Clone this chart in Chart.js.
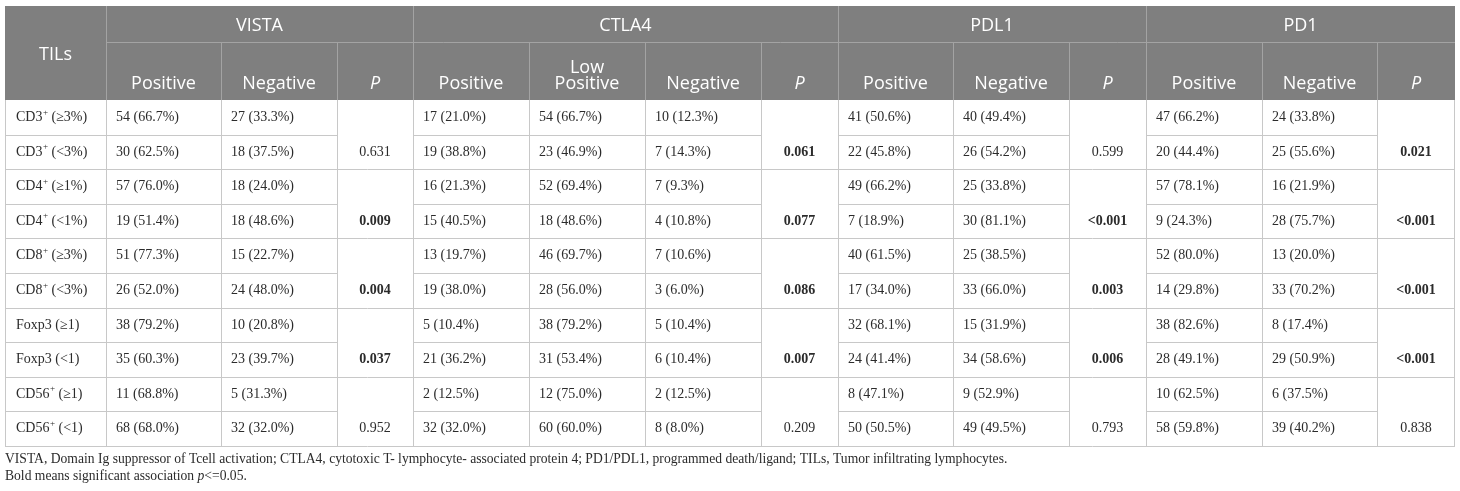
<!DOCTYPE html>
<html><head><meta charset="utf-8">
<script src="https://cdn.jsdelivr.net/npm/chart.js@4.4.1/dist/chart.umd.min.js"></script>
<style>html,body{margin:0;padding:0;background:#fff;}canvas{display:block;}</style>
</head><body>
<canvas id="c" width="1460" height="491"></canvas>
<script>
// ---------- text / categories ----------
const tilsHeader = 'TILs';
const groups = ['VISTA', 'CTLA4', 'PDL1', 'PD1'];
const groupSpans = [3, 4, 3, 3];
const subHeaders = ['Positive', 'Negative', 'P', 'Positive', 'Low\nPositive', 'Negative', 'P', 'Positive', 'Negative', 'P', 'Positive', 'Negative', 'P'];
const rowMarkers = ['CD3', 'CD3', 'CD4', 'CD4', 'CD8', 'CD8', 'Foxp3', 'Foxp3', 'CD56', 'CD56'];
const rowSup = ['+', '+', '+', '+', '+', '+', '', '', '+', '+'];
const rowCut = ['(≥3%)', '(<3%)', '(≥1%)', '(<1%)', '(≥3%)', '(<3%)', '(≥1)', '(<1)', '(≥1)', '(<1)'];
const footnote1 = 'VISTA, Domain Ig suppressor of Tcell activation; CTLA4, cytotoxic T- lymphocyte- associated protein 4; PD1/PDL1, programmed death/ligand; TILs, Tumor infiltrating lymphocytes.';
const footnote2a = 'Bold means significant association ';
const footnote2b = 'p';
const footnote2c = '<=0.05.';

// ---------- values ----------
const vistaPosN = [54, 30, 57, 19, 51, 26, 38, 35, 11, 68];
const vistaPosPct = [66.7, 62.5, 76.0, 51.4, 77.3, 52.0, 79.2, 60.3, 68.8, 68.0];
const vistaNegN = [27, 18, 18, 18, 15, 24, 10, 23, 5, 32];
const vistaNegPct = [33.3, 37.5, 24.0, 48.6, 22.7, 48.0, 20.8, 39.7, 31.3, 32.0];
const vistaP = ['0.631', '0.009', '0.004', '0.037', '0.952'];
const vistaBold = [false, true, true, true, false];

const ctla4PosN = [17, 19, 16, 15, 13, 19, 5, 21, 2, 32];
const ctla4PosPct = [21.0, 38.8, 21.3, 40.5, 19.7, 38.0, 10.4, 36.2, 12.5, 32.0];
const ctla4LowN = [54, 23, 52, 18, 46, 28, 38, 31, 12, 60];
const ctla4LowPct = [66.7, 46.9, 69.4, 48.6, 69.7, 56.0, 79.2, 53.4, 75.0, 60.0];
const ctla4NegN = [10, 7, 7, 4, 7, 3, 5, 6, 2, 8];
const ctla4NegPct = [12.3, 14.3, 9.3, 10.8, 10.6, 6.0, 10.4, 10.4, 12.5, 8.0];
const ctla4P = ['0.061', '0.077', '0.086', '0.007', '0.209'];
const ctla4Bold = [true, true, true, true, false];

const pdl1PosN = [41, 22, 49, 7, 40, 17, 32, 24, 8, 50];
const pdl1PosPct = [50.6, 45.8, 66.2, 18.9, 61.5, 34.0, 68.1, 41.4, 47.1, 50.5];
const pdl1NegN = [40, 26, 25, 30, 25, 33, 15, 34, 9, 49];
const pdl1NegPct = [49.4, 54.2, 33.8, 81.1, 38.5, 66.0, 31.9, 58.6, 52.9, 49.5];
const pdl1P = ['0.599', '<0.001', '0.003', '0.006', '0.793'];
const pdl1Bold = [false, true, true, true, false];

const pd1PosN = [47, 20, 57, 9, 52, 14, 38, 28, 10, 58];
const pd1PosPct = [66.2, 44.4, 78.1, 24.3, 80.0, 29.8, 82.6, 49.1, 62.5, 59.8];
const pd1NegN = [24, 25, 16, 28, 13, 33, 8, 29, 6, 39];
const pd1NegPct = [33.8, 55.6, 21.9, 75.7, 20.0, 70.2, 17.4, 50.9, 37.5, 40.2];
const pd1P = ['0.021', '<0.001', '<0.001', '<0.001', '0.838'];
const pd1Bold = [true, true, true, true, false];

// ---------- layout (not data) ----------
const colWidths = [101, 115, 116, 76, 116, 116, 116, 77, 115, 116, 77, 116, 115, 78];
const headRowH = [36, 58];
const bodyRowH = 34.6;

const columns = [
  { kind: 'label' },
  { kind: 'count', n: vistaPosN, pct: vistaPosPct },
  { kind: 'count', n: vistaNegN, pct: vistaNegPct },
  { kind: 'p', p: vistaP, bold: vistaBold },
  { kind: 'count', n: ctla4PosN, pct: ctla4PosPct },
  { kind: 'count', n: ctla4LowN, pct: ctla4LowPct },
  { kind: 'count', n: ctla4NegN, pct: ctla4NegPct },
  { kind: 'p', p: ctla4P, bold: ctla4Bold },
  { kind: 'count', n: pdl1PosN, pct: pdl1PosPct },
  { kind: 'count', n: pdl1NegN, pct: pdl1NegPct },
  { kind: 'p', p: pdl1P, bold: pdl1Bold },
  { kind: 'count', n: pd1PosN, pct: pd1PosPct },
  { kind: 'count', n: pd1NegN, pct: pd1NegPct },
  { kind: 'p', p: pd1P, bold: pd1Bold }
];

const colEdges = [0];
colWidths.forEach(w => colEdges.push(colEdges[colEdges.length - 1] + w));
const totalW = colEdges[colEdges.length - 1];
const headH = headRowH[0] + headRowH[1];
const nRows = rowMarkers.length;
const totalH = headH + nRows * bodyRowH;

const SERIF = '"Liberation Serif", "Times New Roman", serif';
const SANS = '"Open Sans", "Noto Sans", sans-serif';
const BODY_COLOR = '#2b2b2b';

const tablePlugin = {
  id: 'tablePlugin',
  afterDraw(chart) {
    const ctx = chart.ctx;
    const sx = chart.scales.x, sy = chart.scales.y;
    const X = v => sx.getPixelForValue(v);
    const Y = v => sy.getPixelForValue(v);
    const crisp = v => Math.round(v) + 0.5;
    const line = (x1, y1, x2, y2) => { ctx.beginPath(); ctx.moveTo(x1, y1); ctx.lineTo(x2, y2); ctx.stroke(); };
    ctx.save();

    // header background
    ctx.fillStyle = '#7f7f7f';
    ctx.fillRect(X(0), Y(0), X(totalW) - X(0), Y(headH) - Y(0));

    // header separators
    ctx.strokeStyle = '#a3a3a3';
    ctx.lineWidth = 1;
    line(X(colEdges[1]), crisp(Y(headRowH[0])), X(totalW), crisp(Y(headRowH[0])));
    let gEdge = 1;
    line(crisp(X(colEdges[1])), Y(0), crisp(X(colEdges[1])), Y(headH));
    groupSpans.forEach(s => {
      gEdge += s;
      if (gEdge < colEdges.length - 1) line(crisp(X(colEdges[gEdge])), Y(0), crisp(X(colEdges[gEdge])), Y(headH));
    });
    for (let c = 2; c < colEdges.length - 1; c++) {
      line(crisp(X(colEdges[c])), Y(headRowH[0]), crisp(X(colEdges[c])), Y(headH));
    }

    // header texts
    ctx.fillStyle = '#ffffff';
    ctx.textAlign = 'center';
    ctx.textBaseline = 'middle';
    ctx.font = '18px ' + SANS;
    ctx.fillText(tilsHeader, (X(colEdges[0]) + X(colEdges[1])) / 2, Y(49));
    let gStart = 1;
    groups.forEach((g, i) => {
      const x1 = X(colEdges[gStart]), x2 = X(colEdges[gStart + groupSpans[i]]);
      ctx.font = '18px ' + SANS;
      ctx.fillText(g, (x1 + x2) / 2, Y(20));
      gStart += groupSpans[i];
    });
    subHeaders.forEach((t, i) => {
      const cx = (X(colEdges[i + 1]) + X(colEdges[i + 2])) / 2;
      ctx.font = (t === 'P' ? 'italic ' : '') + '18px ' + SANS;
      const parts = t.split('\n');
      if (parts.length === 2) {
        ctx.fillText(parts[0], cx, Y(62));
        ctx.fillText(parts[1], cx, Y(78));
      } else {
        ctx.fillText(t, cx, Y(77.5));
      }
    });

    // body grid
    ctx.strokeStyle = '#c8c8c8';
    const bodyTop = headH;
    for (let r = 1; r <= nRows; r++) {
      const yv = crisp(Y(bodyTop + r * bodyRowH));
      if (r % 2 === 1 && r < nRows) {
        columns.forEach((col, c) => {
          if (col.kind !== 'p') line(X(colEdges[c]), yv, X(colEdges[c + 1]), yv);
        });
      } else {
        line(X(0), yv, X(totalW), yv);
      }
    }
    for (let c = 0; c < colEdges.length; c++) {
      const xv = c === colEdges.length - 1 ? Math.round(X(colEdges[c])) - 0.5 : crisp(X(colEdges[c]));
      line(xv, Y(bodyTop), xv, Y(totalH) + 0.5);
    }

    // body texts
    ctx.textBaseline = 'middle';
    for (let r = 0; r < nRows; r++) {
      const yc = Y(bodyTop + (r + 0.5) * bodyRowH);
      columns.forEach((col, c) => {
        const x0 = X(colEdges[c]);
        ctx.fillStyle = BODY_COLOR;
        if (col.kind === 'label') {
          ctx.textAlign = 'left';
          let x = x0 + 11;
          ctx.font = '14px ' + SERIF;
          ctx.fillText(rowMarkers[r], x, yc);
          x += ctx.measureText(rowMarkers[r]).width;
          if (rowSup[r]) {
            ctx.font = '9px ' + SERIF;
            ctx.fillText(rowSup[r], x + 0.5, yc - 5);
            x += ctx.measureText(rowSup[r]).width + 0.5;
          }
          ctx.font = '14px ' + SERIF;
          ctx.fillText(' ' + rowCut[r], x, yc);
        } else if (col.kind === 'count') {
          ctx.textAlign = 'left';
          ctx.font = '14px ' + SERIF;
          ctx.fillText(col.n[r] + ' (' + col.pct[r].toFixed(1) + '%)', x0 + 10, yc);
        } else if (col.kind === 'p' && r % 2 === 1) {
          const k = (r - 1) / 2;
          ctx.textAlign = 'center';
          ctx.font = (col.bold[k] ? 'bold ' : '') + '14px ' + SERIF;
          ctx.fillText(col.p[k], (x0 + X(colEdges[c + 1])) / 2, yc);
        }
      });
    }

    // footnotes
    ctx.fillStyle = BODY_COLOR;
    ctx.textAlign = 'left';
    ctx.textBaseline = 'middle';
    const fx = X(0);
    const fs = '13.6px ';
    ctx.font = fs + SERIF;
    ctx.fillText(footnote1, fx, Y(totalH) + 13.5);
    let x = fx;
    const fy2 = Y(totalH) + 30;
    ctx.fillText(footnote2a, x, fy2);
    x += ctx.measureText(footnote2a).width;
    ctx.font = 'italic ' + fs + SERIF;
    ctx.fillText(footnote2b, x, fy2);
    x += ctx.measureText(footnote2b).width;
    ctx.font = fs + SERIF;
    ctx.fillText(footnote2c, x, fy2);

    ctx.restore();
  }
};

new Chart(document.getElementById('c'), {
  type: 'scatter',
  data: { datasets: [{ data: [], pointRadius: 0 }] },
  options: {
    responsive: false,
    animation: false,
    devicePixelRatio: 1,
    layout: { padding: { left: 5, right: 5, top: 6, bottom: 491 - 6 - totalH } },
    plugins: { legend: { display: false }, tooltip: { enabled: false } },
    scales: {
      x: { type: 'linear', min: 0, max: totalW, display: false },
      y: { type: 'linear', min: 0, max: totalH, reverse: true, display: false }
    }
  },
  plugins: [tablePlugin]
});
</script>
</body></html>
